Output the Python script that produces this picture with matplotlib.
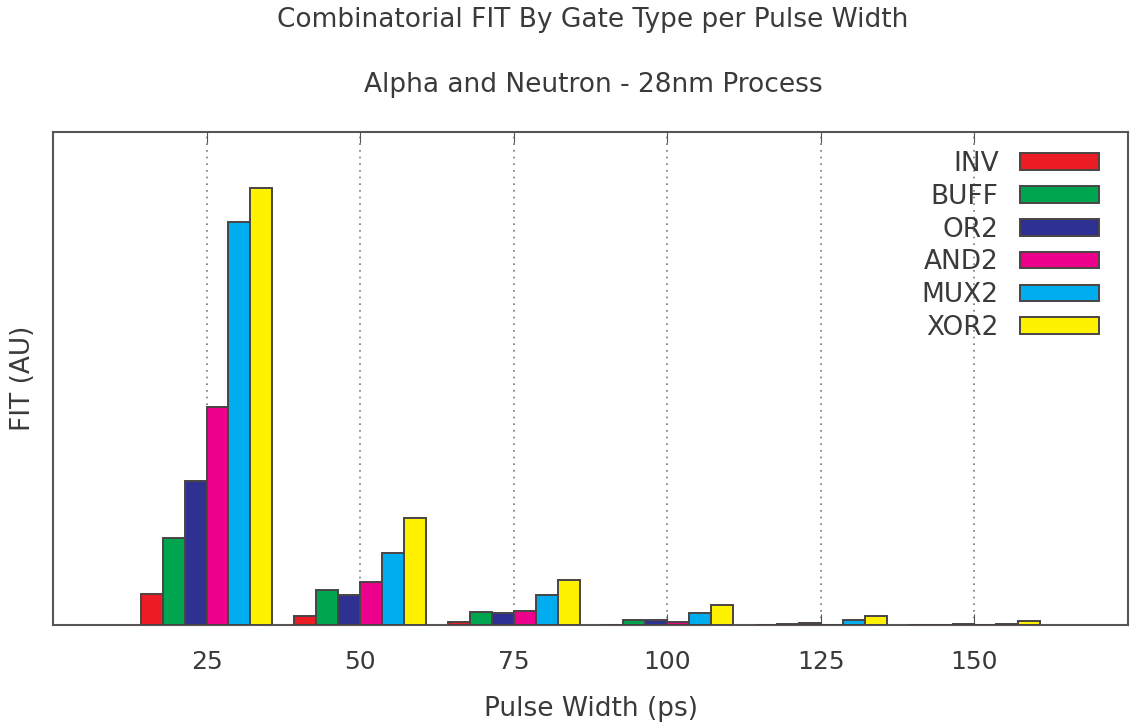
import numpy as np
import matplotlib
matplotlib.use('Agg')
import matplotlib.pyplot as plt

# pulse widths (ps) and gates
widths = ['25', '50', '75', '100', '125', '150']
gates = ['INV', 'BUFF', 'OR2', 'AND2', 'MUX2', 'XOR2']
colors = ['#ec1c24', '#00a550', '#2e3192', '#ec008c', '#00aeef', '#fff200']

# FIT values (AU), one list per gate
inv = [6.3, 1.8, 0.6, 0.0, 0.0, 0.0]
buff = [17.6, 7.1, 2.6, 1.0, 0.2, 0.0]
or2 = [29.2, 6.1, 2.4, 1.0, 0.4, 0.2]
and2 = [44.2, 8.7, 2.8, 0.6, 0.0, 0.0]
mux2 = [81.7, 14.6, 6.1, 2.4, 1.0, 0.2]
xor2 = [88.6, 21.7, 9.1, 4.1, 1.8, 0.8]
series = [inv, buff, or2, and2, mux2, xor2]

txt = '#3a3a3a'
plt.rcParams['font.family'] = ['DejaVu Sans']

fig = plt.figure(figsize=(11.32, 7.24), dpi=100)
ax = fig.add_axes([0.0468, 0.1367, 0.9497, 0.681])

x = np.arange(len(widths))
w = 1.0 / 7
for j, (g, vals) in enumerate(zip(gates, series)):
    ax.bar(x + (j - 2.5) * w, vals, width=w, color=colors[j],
           edgecolor='#4a4444', linewidth=1.4, label=g, zorder=3)

ax.set_xlim(-1, 6)
ax.set_ylim(0, 100)
ax.set_xticks(x)
ax.set_xticklabels(widths, fontsize=18, color=txt)
ax.set_yticks([])
ax.tick_params(axis='x', direction='in', length=8, color='#555555',
               top=True, pad=18)
ax.xaxis.grid(True, linestyle=(0, (1, 3)), color='#777777', linewidth=1.2)
for s in ax.spines.values():
    s.set_color('#5a5555')
    s.set_linewidth(1.5)

ax.set_xlabel('Pulse Width (ps)', fontsize=19, color=txt, labelpad=16)
ax.set_ylabel('FIT (AU)', fontsize=19, color=txt, labelpad=12)

fig.text(0.524, 0.972, 'Combinatorial FIT By Gate Type per Pulse Width',
         ha='center', va='center', fontsize=19, color=txt)
fig.text(0.524, 0.882, 'Alpha and Neutron - 28nm Process',
         ha='center', va='center', fontsize=19, color=txt)

leg = ax.legend(loc='upper right', bbox_to_anchor=(0.995, 1.01),
                frameon=False, markerfirst=False, fontsize=19,
                handlelength=3.0, handleheight=0.6, labelspacing=0.26,
                handletextpad=0.8)
for t in leg.get_texts():
    t.set_color(txt)

fig.savefig('out.png', dpi=100)
